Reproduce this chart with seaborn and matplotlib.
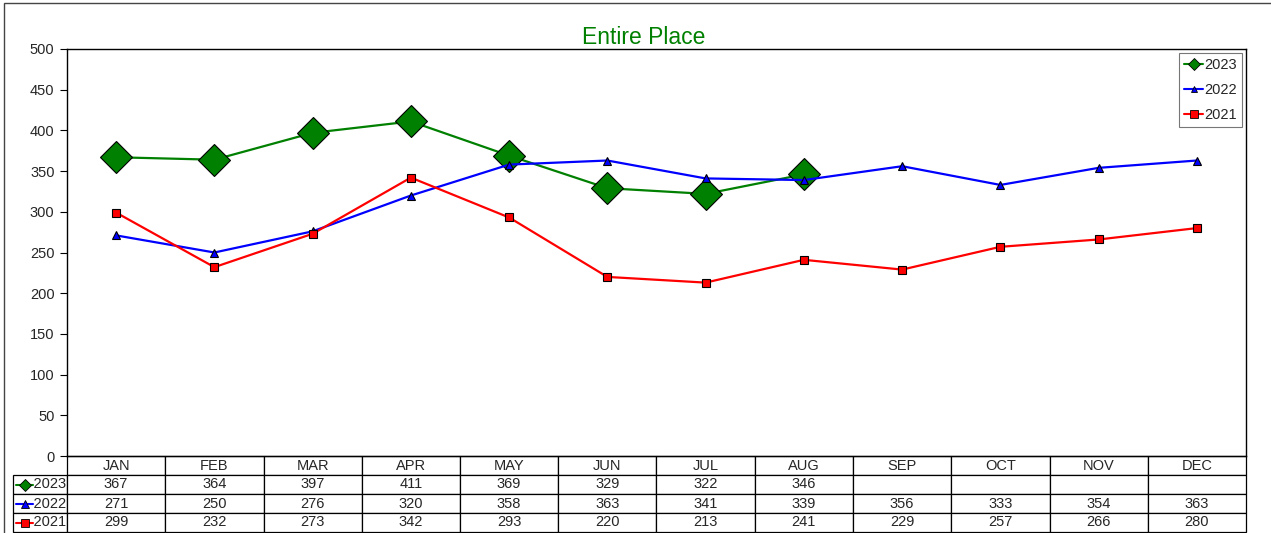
import matplotlib
matplotlib.use("Agg")
import matplotlib.pyplot as plt
import seaborn as sns
import pandas as pd
from matplotlib.lines import Line2D
from matplotlib.patches import Rectangle

months = ['JAN', 'FEB', 'MAR', 'APR', 'MAY', 'JUN', 'JUL', 'AUG', 'SEP', 'OCT', 'NOV', 'DEC']
vals_2023 = [367, 364, 397, 411, 369, 329, 322, 346]
vals_2022 = [271, 250, 276, 320, 358, 363, 341, 339, 356, 333, 354, 363]
vals_2021 = [299, 232, 273, 342, 293, 220, 213, 241, 229, 257, 266, 280]

series = [
    ('2023', vals_2023, '#008000', 'D', 16.5),
    ('2022', vals_2022, '#0000FF', '^', 6),
    ('2021', vals_2021, '#FF0000', 's', 5.5),
]

sns.set_theme(style="white")
plt.rcParams['font.family'] = ['Liberation Sans', 'DejaVu Sans']

fig = plt.figure(figsize=(12.71, 5.33), dpi=100)
W, H = 1271, 533
L, R, T, B = 67, 1246, 49, 456
ax = fig.add_axes([L / W, 1 - B / H, (R - L) / W, (B - T) / H])

for name, vals, color, mk, ms in series:
    df = pd.DataFrame({'x': range(len(vals)), 'y': vals})
    sns.lineplot(data=df, x='x', y='y', ax=ax, color=color, marker=mk, markersize=ms,
                 markeredgecolor='black', markeredgewidth=0.8, linewidth=1.6, zorder=3)

ax.set_xlim(-0.5, 11.5)
ax.set_ylim(0, 500)
ax.set_yticks(range(0, 501, 50))
ax.set_xticks([])
ax.set_xlabel('')
ax.set_ylabel('')
ax.tick_params(axis='y', which='both', left=True, length=5, width=0.8, color='black',
               labelsize=10.5, pad=4, direction='out')
for sp in ax.spines.values():
    sp.set_color('black')
    sp.set_linewidth(1.0)
ax.set_title('Entire Place', color='#008000', fontsize=16.5, pad=1, x=0.489)

# legend
handles = [Line2D([0], [0], color=c, marker=m, markersize=6 if m != '^' else 5,
                  markeredgecolor='black', markeredgewidth=0.6, lw=1.5)
           for _, _, c, m, _ in series]
leg = ax.legend(handles, [s[0] for s in series], loc='upper right', frameon=True,
                fontsize=10.5, handlelength=1.3, handletextpad=0.1, borderpad=0.35,
                labelspacing=0.75, fancybox=False, borderaxespad=0.25)
leg.get_frame().set_edgecolor('#555555')
leg.get_frame().set_linewidth(0.8)

# data table below the plot
row_w = 54
cell_text = []
for _, vals, _, _, _ in series:
    cell_text.append([str(v) for v in vals] + [''] * (12 - len(vals)))
tab_h = 76 / (B - T)
lab_frac = row_w / (R - L)
tbl = ax.table(cellText=cell_text, colLabels=months,
               colWidths=[1 / 12] * 12, cellLoc='center',
               bbox=[0, -tab_h, 1, tab_h])
ch = tbl[1, 0].get_height()
for i, s in enumerate(series):
    tbl.add_cell(i + 1, -1, width=lab_frac, height=ch, text='    ' + s[0], loc='right')
tbl.auto_set_font_size(False)
tbl.set_fontsize(10.5)
for (r, c), cell in tbl.get_celld().items():
    cell.set_edgecolor('black')
    cell.set_linewidth(0.9)
    cell.PAD = 0.02

# marker keys in the row labels
for i, (_, _, color, mk, _) in enumerate(series):
    yc = -tab_h + (2.5 - i) * tab_h / 4
    x0 = -lab_frac + 3 / (R - L)
    x1 = -lab_frac + 20 / (R - L)
    ax.add_line(Line2D([x0, x1], [yc, yc], transform=ax.transAxes, color=color, lw=1.5,
                       clip_on=False))
    ax.add_line(Line2D([(x0 + x1) / 2], [yc], transform=ax.transAxes, color=color,
                       marker=mk, markersize=6 if mk != '^' else 5.5,
                       markeredgecolor='black', markeredgewidth=0.6, clip_on=False))

# outer chart frame (runs off the right and bottom edges)
fig.patches.append(Rectangle((4 / W, -0.02), 1.1, 1 - 3 / H + 0.02, transform=fig.transFigure,
                             fill=False, edgecolor='#444444', linewidth=1.0))

fig.savefig('out.png', dpi=100)
